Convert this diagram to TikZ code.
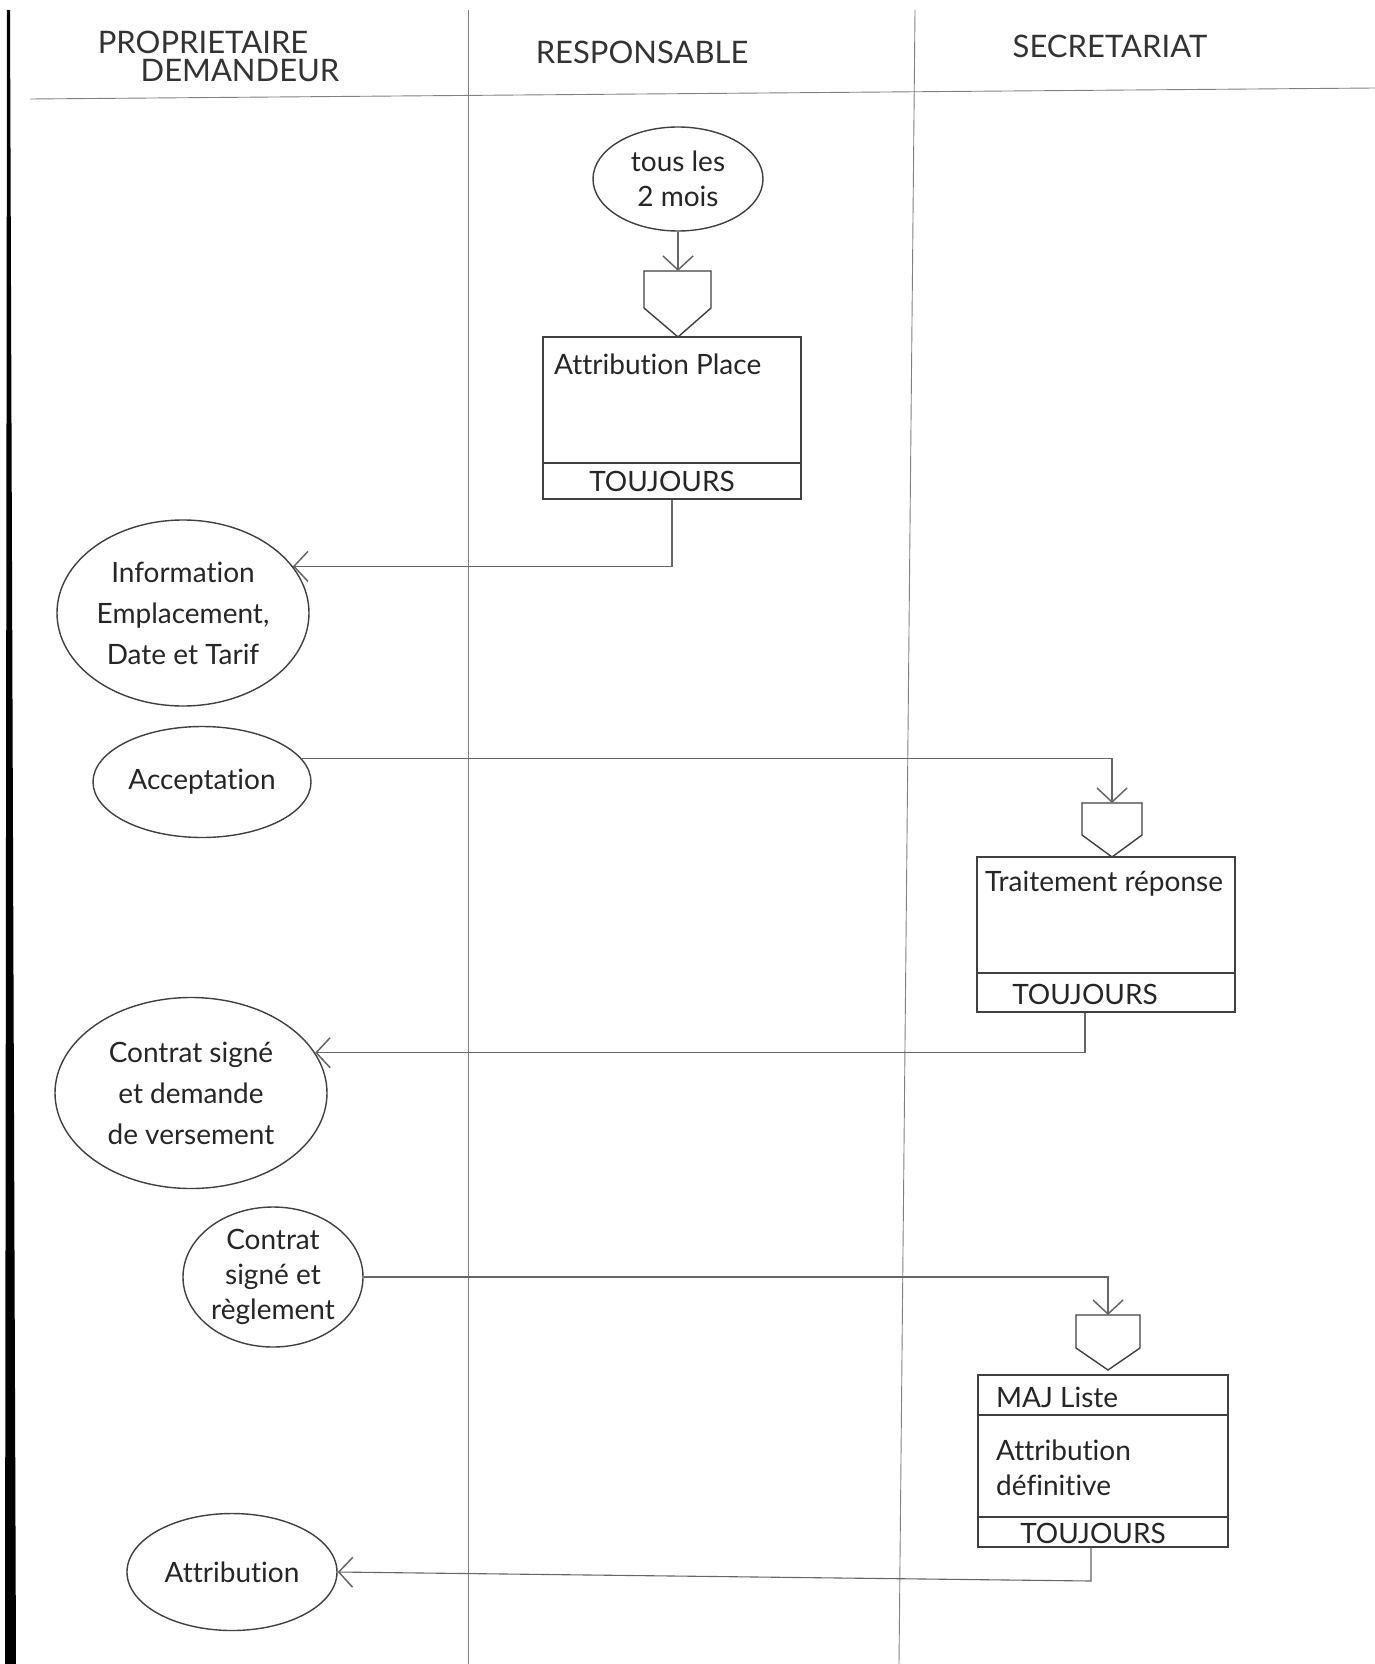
\documentclass[tikz,border=0pt]{standalone}
\usepackage{fontspec}
\setmainfont[Ligatures=NoCommon]{Lato}
\usetikzlibrary{arrows.meta,shapes.geometric,calc}
\newcommand\mytxt{\fontsize{28}{41}\selectfont}
\newcommand\mytxtb{\fontsize{28}{35}\selectfont}
\newcommand\myhdr{\fontsize{31}{31}\selectfont}
\begin{document}
\begin{tikzpicture}[x=1pt,y=-1pt,
  ink/.style={draw=black!75, line width=1.4pt},
  lane/.style={draw=black!50, line width=0.9pt},
  wire/.style={draw=black!60, line width=1.1pt},
  arr/.style={wire, -{Straight Barb[length=14pt,width=30pt,line width=1.5pt]}},
  oval/.style={ellipse, ink, inner sep=0pt, align=center, font=\mytxt, text=black!85},
  procbox/.style={rectangle, ink, inner sep=0pt},
  lbl/.style={font=\mytxt, text=black!85, inner sep=0pt, align=left},
  hdr/.style={font=\myhdr, text=black!80, inner sep=0pt}
]
\useasboundingbox (0,0) rectangle (1375,1664);
\fill[white] (0,0) rectangle (1375,1664);

% left edge bar
\fill[black] (7,10) -- (10,10) -- (16,1664) -- (5,1664) -- cycle;

% swimlanes
\draw[lane] (468,10) -- (468,1664);
\draw[lane] (915,10) -- (899,1664);
\draw[lane] (30,99) -- (1375,88);

% headers
\node[hdr] (h1a) at (203,42) {PROPRIETAIRE};
\node[hdr] (h1b) at (240,71) {DEMANDEUR};
\node[hdr] (h2) at (642,52) {RESPONSABLE};
\node[hdr] (h3) at (1110,46) {SECRETARIAT};

% ---- Responsable: trigger and first process
\node[oval, minimum width=170pt, minimum height=104pt, font=\mytxtb] (t) at (678,179) {tous les\\2 mois};
\coordinate (p1) at (678,271);
\draw[ink] (644,271) -- (711,271) -- (711,308) -- (678,337) -- (644,308) -- cycle;
\draw[arr] (t.south) -- (p1);

\node[procbox, minimum width=258pt, minimum height=162pt] (b1) at (672,418) {};
\draw[ink] (543,463) -- (801,463);
\node[lbl, anchor=west] (b1t) at (554,364) {Attribution Place};
\node[lbl] (b1s) at (662,481) {TOUJOURS};

% ---- Proprietaire: information
\node[oval, minimum width=252pt, minimum height=186pt] (info) at (183,613) {Information\\Emplacement,\\Date et Tarif};
\draw[arr] (b1.south) |- (info.23);

% ---- Acceptation
\node[oval, minimum width=218pt, minimum height=111pt] (acc) at (202,782) {Acceptation};
\coordinate (p2) at (1112,803);
\draw[ink] (1082,803) -- (1142,803) -- (1142,835) -- (1112,857) -- (1082,835) -- cycle;
\draw[arr] (acc.13) -| (p2);

\node[procbox, minimum width=258pt, minimum height=155pt] (b2) at (1106,934.5) {};
\draw[ink] (977,973) -- (1235,973);
\node[lbl, anchor=west] (b2t) at (985,884) {Traitement réponse};
\node[lbl] (b2s) at (1085,994) {TOUJOURS};

% ---- Contrat signé et demande de versement
\node[oval, minimum width=272pt, minimum height=191pt] (c1) at (191,1093) {Contrat signé\\et demande\\de versement};
\draw[arr] ($(b2.south)+(-21,0)$) |- (c1.18);

% ---- Contrat signé et règlement
\node[oval, minimum width=180pt, minimum height=140pt, font=\mytxtb] (c2) at (273,1277) {Contrat\\signé et\\règlement};
\coordinate (p3) at (1108,1315);
\draw[ink] (1076,1315) -- (1140,1315) -- (1140,1348) -- (1108,1370) -- (1076,1348) -- cycle;
\draw[arr] (c2.east) -| (p3);

\node[procbox, minimum width=250pt, minimum height=172pt] (b3) at (1103,1461) {};
\draw[ink] (978,1415) -- (1228,1415);
\draw[ink] (978,1517) -- (1228,1517);
\node[lbl, anchor=west] (b3t) at (996,1397) {MAJ Liste};
\node[lbl, anchor=west, font=\mytxtb] (b3m) at (996,1468) {Attribution\\définitive};
\node[lbl] (b3s) at (1093,1533) {TOUJOURS};

% ---- Attribution
\node[oval, minimum width=210pt, minimum height=117pt] (attr) at (232,1572) {Attribution};
\coordinate (b3down) at (1091,1581);
\draw[arr] ($(b3.south)+(-12,0)$) -- (b3down) -- (attr.east);
\end{tikzpicture}
\end{document}
